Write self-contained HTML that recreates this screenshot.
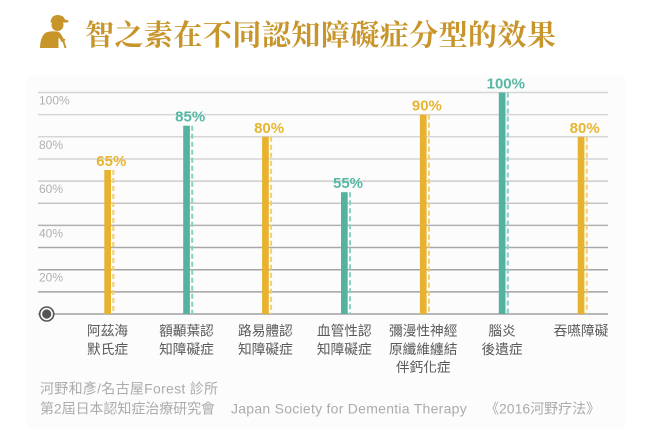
<!DOCTYPE html>
<html>
<head>
<meta charset="utf-8">
<style>
html,body{margin:0;padding:0;background:#ffffff;}
body{width:650px;height:441px;overflow:hidden;}
svg{display:block;}
</style>
</head>
<body>
<svg width="650" height="441" viewBox="0 0 650 441" xmlns="http://www.w3.org/2000/svg">
  <rect x="0" y="0" width="650" height="441" fill="#ffffff"/>
  <rect x="26" y="76" width="599" height="352" fill="#fcfcfc"/>

  <!-- icon -->
  <g fill="#c8952b">
    <path d="M50.5,22.5 Q51,15 58,15 Q64,15.5 65,19.5 L68.5,20.5 L68,22.5 L50.5,22.5 Z"/>
    <circle cx="57.5" cy="25" r="6"/>
    <path d="M45,33 Q50,30.5 57,31.5 Q60,32 61.5,35 L64.5,40.5 L62.5,42 L58.5,37.5 L58.5,48 L40,48 Q40,38 45,33 Z"/>
    <path d="M62,40 L64,40 L66.5,48 L64.5,48 Z"/>
    <path d="M60.5,41 Q63,37.5 65.5,39.5 L64.5,41 Q63,40 61.5,42 Z"/>
  </g>

  <!-- title -->
  <text x="85" y="45" font-family="'Noto Serif CJK SC','Noto Serif CJK TC',serif" font-weight="bold" font-size="29" fill="#c8952b" textLength="471" lengthAdjust="spacing">智之素在不同認知障礙症分型的效果</text>

  <!-- grid lines -->
  <g stroke-width="1.5">
    <line x1="38" y1="92.5" x2="608" y2="92.5" stroke="#d6d6d6"/>
    <line x1="38" y1="114.65" x2="608" y2="114.65" stroke="#d6d6d6"/>
    <line x1="38" y1="136.8" x2="608" y2="136.8" stroke="#d6d6d6"/>
    <line x1="38" y1="158.95" x2="608" y2="158.95" stroke="#d3d3d3"/>
    <line x1="38" y1="181.1" x2="608" y2="181.1" stroke="#cdcdcd"/>
    <line x1="38" y1="203.25" x2="608" y2="203.25" stroke="#c4c4c4"/>
    <line x1="38" y1="225.4" x2="608" y2="225.4" stroke="#b0b0b0"/>
    <line x1="38" y1="247.55" x2="608" y2="247.55" stroke="#a8a8a8"/>
    <line x1="38" y1="269.7" x2="608" y2="269.7" stroke="#a4a4a4"/>
    <line x1="38" y1="291.85" x2="608" y2="291.85" stroke="#a2a2a2"/>
    <line x1="38" y1="314" x2="608" y2="314" stroke="#a0a0a0"/>
  </g>

  <!-- y labels -->
  <g font-family="'Liberation Sans',sans-serif" font-size="12" fill="#b0b0b0">
    <text x="39" y="104.5">100%</text>
    <text x="39" y="148.8">80%</text>
    <text x="39" y="193.1">60%</text>
    <text x="39" y="237.4">40%</text>
    <text x="39" y="281.7">20%</text>
  </g>

  <!-- bars -->
  <g>
    <rect x="104.3" y="170" width="6.7" height="144" fill="#e6b22f"/>
    <line x1="113.3" y1="170" x2="113.3" y2="314" stroke="#f2cf6a" stroke-width="2" stroke-dasharray="5,3"/>
    <rect x="183.2" y="125.7" width="6.7" height="188.3" fill="#52b4a0"/>
    <line x1="192.2" y1="125.7" x2="192.2" y2="314" stroke="#86d3c3" stroke-width="2" stroke-dasharray="5,3"/>
    <rect x="262.1" y="136.8" width="6.7" height="177.2" fill="#e6b22f"/>
    <line x1="271.1" y1="136.8" x2="271.1" y2="314" stroke="#f2cf6a" stroke-width="2" stroke-dasharray="5,3"/>
    <rect x="341" y="192.2" width="6.7" height="121.8" fill="#52b4a0"/>
    <line x1="350" y1="192.2" x2="350" y2="314" stroke="#86d3c3" stroke-width="2" stroke-dasharray="5,3"/>
    <rect x="419.9" y="114.65" width="6.7" height="199.35" fill="#e6b22f"/>
    <line x1="428.9" y1="114.65" x2="428.9" y2="314" stroke="#f2cf6a" stroke-width="2" stroke-dasharray="5,3"/>
    <rect x="498.8" y="92.5" width="6.7" height="221.5" fill="#52b4a0"/>
    <line x1="507.8" y1="92.5" x2="507.8" y2="314" stroke="#86d3c3" stroke-width="2" stroke-dasharray="5,3"/>
    <rect x="577.7" y="136.8" width="6.7" height="177.2" fill="#e6b22f"/>
    <line x1="586.7" y1="136.8" x2="586.7" y2="314" stroke="#f2cf6a" stroke-width="2" stroke-dasharray="5,3"/>
  </g>

  <!-- value labels -->
  <g font-family="'Liberation Sans',sans-serif" font-weight="bold" font-size="15" text-anchor="middle">
    <text x="111.3" y="166" fill="#e8b530">65%</text>
    <text x="190.2" y="121.7" fill="#55b9a3">85%</text>
    <text x="269.1" y="132.8" fill="#e8b530">80%</text>
    <text x="348" y="188.2" fill="#55b9a3">55%</text>
    <text x="426.9" y="110.65" fill="#e8b530">90%</text>
    <text x="505.8" y="88.5" fill="#55b9a3">100%</text>
    <text x="584.7" y="132.8" fill="#e8b530">80%</text>
  </g>

  <!-- baseline circle -->
  <circle cx="46.7" cy="314" r="7" fill="#ffffff" stroke="#555555" stroke-width="1.6"/>
  <circle cx="46.7" cy="314" r="4.6" fill="#555555"/>

  <!-- category labels -->
  <g font-family="'Liberation Sans','Noto Sans CJK TC',sans-serif" font-size="13.7" fill="#5a5a5a" text-anchor="middle">
    <text x="107.6" y="335.5">阿茲海</text>
    <text x="107.6" y="353.8">默氏症</text>
    <text x="186.5" y="335.5">額顳葉認</text>
    <text x="186.5" y="353.8">知障礙症</text>
    <text x="265.4" y="335.5">路易體認</text>
    <text x="265.4" y="353.8">知障礙症</text>
    <text x="344.3" y="335.5">血管性認</text>
    <text x="344.3" y="353.8">知障礙症</text>
    <text x="423.2" y="335.5">彌漫性神經</text>
    <text x="423.2" y="353.8">原纖維纏結</text>
    <text x="423.2" y="372.1">伴鈣化症</text>
    <text x="502.1" y="335.5">腦炎</text>
    <text x="502.1" y="353.8">後遺症</text>
    <text x="581" y="335.5">吞嚥障礙</text>
  </g>

  <!-- footer -->
  <g font-family="'Liberation Sans','Noto Sans CJK TC',sans-serif" font-size="14" fill="#ababab">
    <text x="40" y="393.5" textLength="178" lengthAdjust="spacing">河野和彥/名古屋Forest 診所</text>
    <text x="40" y="413.5" textLength="175" lengthAdjust="spacing">第2屆日本認知症治療研究會</text>
    <text x="231" y="413.5" textLength="235.7" lengthAdjust="spacing">Japan Society for Dementia Therapy</text>
    <text x="485" y="413.5">《2016河野疗法》</text>
  </g>
</svg>
</body>
</html>
